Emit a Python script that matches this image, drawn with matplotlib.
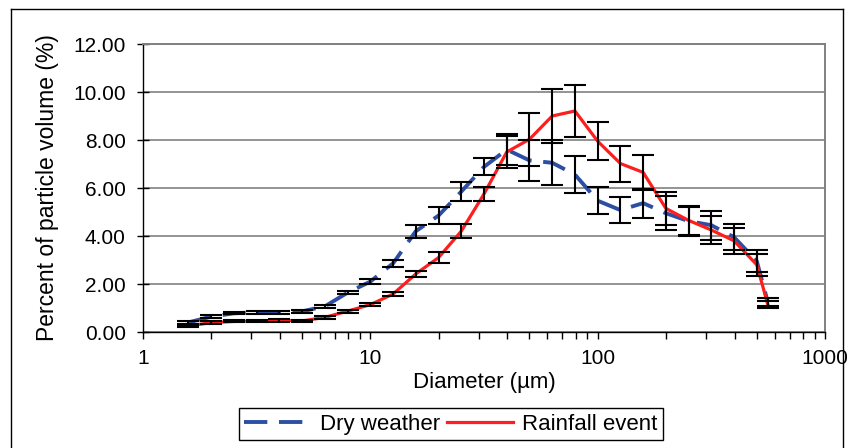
import matplotlib
matplotlib.use("Agg")
import matplotlib.pyplot as plt
from matplotlib.lines import Line2D
from matplotlib.ticker import FixedLocator, LogLocator, NullFormatter, FuncFormatter

plt.rcParams['font.family'] = ['Liberation Sans', 'DejaVu Sans']

# particle size bins (um)
diameter = [1.585, 1.995, 2.512, 3.162, 3.981, 5.012, 6.310, 7.943, 10.0, 12.59,
            15.85, 19.95, 25.12, 31.62, 39.81, 50.12, 63.10, 79.43, 100.0, 125.9,
            158.5, 199.5, 251.2, 316.2, 398.1, 501.2, 560.0]

dry = [0.40, 0.64, 0.78, 0.82, 0.82, 0.86, 1.07, 1.64, 2.10, 2.86,
       4.20, 4.85, 5.85, 6.88, 7.60, 7.15, 7.05, 6.56, 5.47, 5.08,
       5.37, 4.95, 4.62, 4.45, 3.95, 2.95, 1.25]
dry_err = [0.05, 0.05, 0.05, 0.05, 0.05, 0.05, 0.06, 0.07, 0.09, 0.15,
           0.27, 0.37, 0.38, 0.35, 0.65, 0.85, 0.94, 0.78, 0.56, 0.53,
           0.60, 0.70, 0.60, 0.60, 0.55, 0.45, 0.15]

rain = [0.25, 0.39, 0.44, 0.46, 0.48, 0.46, 0.61, 0.87, 1.14, 1.58,
        2.42, 3.10, 4.20, 5.75, 7.50, 8.03, 9.00, 9.21, 7.95, 7.02,
        6.65, 5.15, 4.65, 4.25, 3.80, 2.80, 1.15]
rain_err = [0.04, 0.05, 0.04, 0.04, 0.05, 0.04, 0.05, 0.06, 0.07, 0.08,
            0.14, 0.24, 0.28, 0.30, 0.65, 1.10, 1.11, 1.08, 0.78, 0.75,
            0.73, 0.70, 0.60, 0.60, 0.55, 0.45, 0.15]

blue = '#2d4fa3'
red = '#ff1e1e'

W, H = 853, 448
fig = plt.figure(figsize=(W / 100, H / 100), dpi=100)
ax = fig.add_axes([143 / W, 1 - 332 / H, (825 - 143) / W, (332 - 44) / H])

ax.plot(diameter, dry, color=blue, lw=2.8, dashes=(6, 3), zorder=3, label='Dry weather')
ax.plot(diameter, rain, color=red, lw=2.3, zorder=3, label='Rainfall event')
ax.errorbar(diameter, dry, yerr=dry_err, fmt='none', ecolor='black', elinewidth=1.5,
            capsize=8, capthick=1.5, zorder=4)
ax.errorbar(diameter, rain, yerr=rain_err, fmt='none', ecolor='black', elinewidth=1.5,
            capsize=8, capthick=1.5, zorder=4)

ax.set_xscale('log')
ax.set_xlim(1, 1000)
ax.set_ylim(0, 12)
ax.xaxis.set_major_locator(FixedLocator([1, 10, 100, 1000]))
ax.xaxis.set_major_formatter(FuncFormatter(lambda v, p: f"{v:g}"))
ax.xaxis.set_minor_locator(LogLocator(base=10, subs=range(2, 10)))
ax.xaxis.set_minor_formatter(NullFormatter())
ax.set_yticks([0, 2, 4, 6, 8, 10, 12])
ax.yaxis.set_major_formatter(FuncFormatter(lambda v, p: f"{v:.2f}"))

ax.grid(axis='y', color='#808080', lw=1.2)
ax.set_axisbelow(True)
for s in ['top', 'right']:
    ax.spines[s].set_color('#808080')
    ax.spines[s].set_linewidth(1.4)
for s in ['left', 'bottom']:
    ax.spines[s].set_color('black')
    ax.spines[s].set_linewidth(1.0)

ax.tick_params(axis='x', which='both', direction='out', length=5, width=1, labelsize=15, pad=7)
ax.tick_params(axis='y', direction='inout', length=9, width=1, labelsize=15, pad=8)

ax.set_xlabel('Diameter (µm)', fontsize=16, labelpad=3)
ax.set_ylabel('Percent of particle volume (%)', fontsize=16.5, labelpad=10)

leg = fig.legend(handles=[Line2D([], [], color=blue, lw=2.8, dashes=(6, 3)),
                          Line2D([], [], color=red, lw=2.3)],
                 labels=['Dry weather', 'Rainfall event'],
                 loc='center', bbox_to_anchor=(451 / W, 1 - 424 / H), ncol=2,
                 fontsize=16, handlelength=3.0, handletextpad=0.4, columnspacing=0.3,
                 fancybox=False, edgecolor='black', framealpha=1, borderpad=0.25)
leg.get_frame().set_linewidth(1.0)

# outer chart border
for xs, ys in [([11, 11], [9, H + 5]), ([11, 843], [9, 9]), ([843, 843], [9, H + 5])]:
    fig.add_artist(Line2D([x / W for x in xs], [1 - y / H for y in ys], color='black', lw=1.0))

plt.savefig('out.png', dpi=100)
